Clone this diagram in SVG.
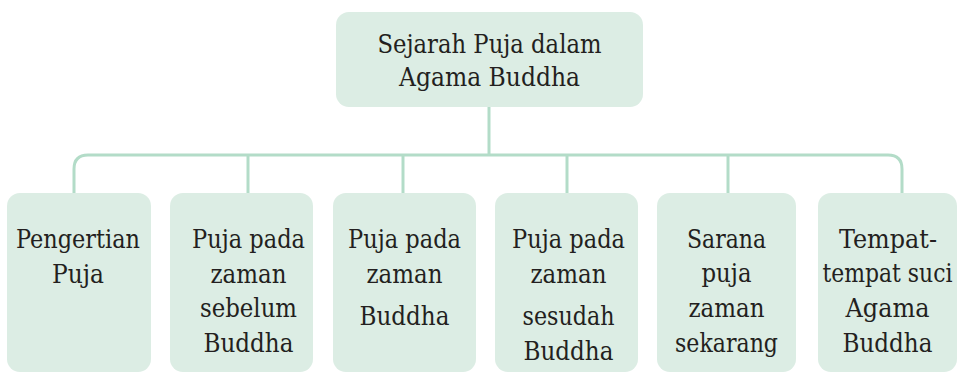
<svg xmlns="http://www.w3.org/2000/svg" width="958" height="373" viewBox="0 0 958 373">
  <style>
    .box { fill: #dcede4; }
    .lbl { font-family: "DejaVu Serif Condensed", "DejaVu Serif", serif; font-stretch: condensed; font-size: 26.5px; fill: #231f20; text-anchor: middle; }
    .link { fill: none; stroke: #b3dcc8; stroke-width: 3; }
  </style>
  <rect width="958" height="373" fill="#ffffff"/>

  <g id="connectors">
    <path class="link" d="M489 107 V155"/>
    <path class="link" d="M74 193 V169 Q74 155 88 155 H888 Q902 155 902 169 V193"/>
    <path class="link" d="M248 155 V193"/>
    <path class="link" d="M403 155 V193"/>
    <path class="link" d="M567 155 V193"/>
    <path class="link" d="M728 155 V193"/>
  </g>

  <g id="root">
    <rect class="box" x="336" y="12" width="307" height="95" rx="13"/>
    <text class="lbl" x="489.5" y="53" textLength="224" lengthAdjust="spacingAndGlyphs">Sejarah Puja dalam</text>
    <text class="lbl" x="489.5" y="86" textLength="181" lengthAdjust="spacingAndGlyphs">Agama Buddha</text>
  </g>

  <g id="pengertian">
    <rect class="box" x="7" y="193" width="144" height="179" rx="13"/>
    <text class="lbl" x="78" y="248" textLength="124" lengthAdjust="spacingAndGlyphs">Pengertian</text>
    <text class="lbl" x="78" y="283" textLength="52" lengthAdjust="spacingAndGlyphs">Puja</text>
  </g>

  <g id="sebelum">
    <rect class="box" x="170" y="193" width="143" height="179" rx="13"/>
    <text class="lbl" x="248.5" y="248" textLength="113" lengthAdjust="spacingAndGlyphs">Puja pada</text>
    <text class="lbl" x="248.5" y="283" textLength="76" lengthAdjust="spacingAndGlyphs">zaman</text>
    <text class="lbl" x="248.5" y="317" textLength="97" lengthAdjust="spacingAndGlyphs">sebelum</text>
    <text class="lbl" x="248.5" y="352" textLength="90" lengthAdjust="spacingAndGlyphs">Buddha</text>
  </g>

  <g id="zaman-buddha">
    <rect class="box" x="333" y="193" width="143" height="179" rx="13"/>
    <text class="lbl" x="404.5" y="248" textLength="113" lengthAdjust="spacingAndGlyphs">Puja pada</text>
    <text class="lbl" x="404.5" y="283" textLength="76" lengthAdjust="spacingAndGlyphs">zaman</text>
    <text class="lbl" x="404.5" y="325" textLength="90" lengthAdjust="spacingAndGlyphs">Buddha</text>
  </g>

  <g id="sesudah">
    <rect class="box" x="495" y="193" width="143" height="179" rx="13"/>
    <text class="lbl" x="568.5" y="248" textLength="113" lengthAdjust="spacingAndGlyphs">Puja pada</text>
    <text class="lbl" x="568.5" y="283" textLength="76" lengthAdjust="spacingAndGlyphs">zaman</text>
    <text class="lbl" x="568.5" y="325" textLength="92" lengthAdjust="spacingAndGlyphs">sesudah</text>
    <text class="lbl" x="568.5" y="360" textLength="90" lengthAdjust="spacingAndGlyphs">Buddha</text>
  </g>

  <g id="sarana">
    <rect class="box" x="657" y="193" width="139" height="179" rx="13"/>
    <text class="lbl" x="726.5" y="248" textLength="79" lengthAdjust="spacingAndGlyphs">Sarana</text>
    <text class="lbl" x="726.5" y="282" textLength="50" lengthAdjust="spacingAndGlyphs">puja</text>
    <text class="lbl" x="726.5" y="317" textLength="76" lengthAdjust="spacingAndGlyphs">zaman</text>
    <text class="lbl" x="726.5" y="352" textLength="103" lengthAdjust="spacingAndGlyphs">sekarang</text>
  </g>

  <g id="tempat">
    <rect class="box" x="818" y="193" width="139" height="179" rx="13"/>
    <text class="lbl" x="888" y="248" textLength="98" lengthAdjust="spacingAndGlyphs">Tempat-</text>
    <text class="lbl" x="887.5" y="282" textLength="130" lengthAdjust="spacingAndGlyphs">tempat suci</text>
    <text class="lbl" x="887.5" y="317" textLength="84" lengthAdjust="spacingAndGlyphs">Agama</text>
    <text class="lbl" x="887.5" y="352" textLength="90" lengthAdjust="spacingAndGlyphs">Buddha</text>
  </g>
</svg>
